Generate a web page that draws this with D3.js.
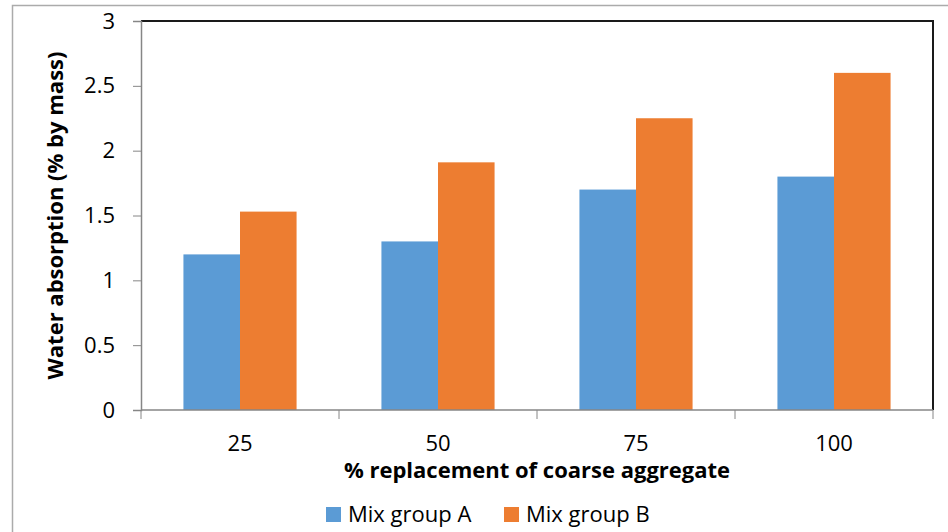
<!DOCTYPE html>
<html>
<head>
<meta charset="utf-8">
<script src="https://cdn.jsdelivr.net/npm/d3@7"></script>
<style>
  html, body { margin: 0; padding: 0; background: #fff; }
  svg { display: block; font-family: "Open Sans", "Noto Sans", sans-serif; }
</style>
</head>
<body>
<svg id="chart" width="948" height="532"></svg>
<script>
// Water absorption by percentage of coarse aggregate replaced
const categories = ["25", "50", "75", "100"];
const seriesNames = ["Mix group A", "Mix group B"];
const mixA = [1.2, 1.3, 1.7, 1.8];
const mixB = [1.53, 1.91, 2.25, 2.6];
const yTicks = [0, 0.5, 1, 1.5, 2, 2.5, 3];
const colors = ["#5B9BD5", "#ED7D31"];

const FONT = "'Open Sans', 'Noto Sans', sans-serif";
const FS = 22;

const svg = d3.select("#chart");
const plotLeft = 141, plotRight = 933, plotTop = 21, plotBottom = 410;

// outer chart frame
svg.append("rect")
  .attr("x", 12.5).attr("y", 5.5)
  .attr("width", 960).attr("height", 560)
  .attr("fill", "none").attr("stroke", "#ababab").attr("stroke-width", 1.5);

const x0 = d3.scaleBand().domain(categories).range([plotLeft, plotRight]).padding(0);
const bw = x0.bandwidth();
const x1 = d3.scaleBand().domain(seriesNames)
  .range([bw * 0.75 / 3.5, bw * 2.75 / 3.5]).padding(0);
const y = d3.scaleLinear().domain([0, 3]).range([plotBottom, plotTop]);

// plot area frame: top and right edges in black
svg.append("path")
  .attr("d", `M${plotLeft},${plotTop}H${plotRight}V${plotBottom}`)
  .attr("fill", "none").attr("stroke", "#1a1a1a").attr("stroke-width", 2);

// bars
const rows = categories.map((c, i) => ({ cat: c, vals: [mixA[i], mixB[i]] }));
const groups = svg.append("g").selectAll("g").data(rows).join("g")
  .attr("transform", d => `translate(${x0(d.cat)},0)`);
groups.selectAll("rect")
  .data(d => d.vals.map((v, j) => ({ name: seriesNames[j], v, j })))
  .join("rect")
  .attr("x", d => x1(d.name))
  .attr("y", d => y(d.v))
  .attr("width", x1.bandwidth())
  .attr("height", d => y(0) - y(d.v))
  .attr("fill", d => colors[d.j]);

// y axis
const yAxis = svg.append("g")
  .attr("transform", `translate(${plotLeft},0)`)
  .call(d3.axisLeft(y).tickValues(yTicks).tickSize(8).tickPadding(18)
    .tickFormat(d3.format("")));
yAxis.select(".domain").attr("stroke", "#868686").attr("stroke-width", 1.5);
yAxis.selectAll(".tick line").attr("stroke", "#868686");
yAxis.selectAll("text")
  .attr("font-size", FS).attr("fill", "#000")
  .attr("font-family", FONT);

// x axis: labels centred in each band, tick marks at band edges
const xAxis = svg.append("g")
  .attr("transform", `translate(0,${plotBottom})`)
  .call(d3.axisBottom(x0).tickSize(0).tickPadding(25));
xAxis.select(".domain").attr("stroke", "#868686").attr("stroke-width", 1.5)
  .attr("d", `M${plotLeft},0H${plotRight}`);
xAxis.selectAll("text")
  .attr("font-size", FS).attr("fill", "#000")
  .attr("font-family", FONT);
const edges = categories.map(c => x0(c)).concat([x0(categories[categories.length - 1]) + bw]);
xAxis.selectAll("line.edge").data(edges).join("line")
  .attr("class", "edge")
  .attr("x1", d => d).attr("x2", d => d)
  .attr("y1", 0).attr("y2", 9)
  .attr("stroke", "#868686").attr("stroke-width", 1);

// axis titles
svg.append("text")
  .attr("x", (plotLeft + plotRight) / 2).attr("y", 478)
  .attr("text-anchor", "middle")
  .attr("font-size", FS).attr("font-weight", "bold")
  .text("% replacement of coarse aggregate");

svg.append("text")
  .attr("transform", `translate(63,${(plotTop + plotBottom) / 2}) rotate(-90)`)
  .attr("text-anchor", "middle")
  .attr("font-size", FS).attr("font-weight", "bold")
  .text("Water absorption (% by mass)");

// legend
const legendX = [326, 504];
const legend = svg.append("g").selectAll("g").data(seriesNames).join("g")
  .attr("transform", (d, i) => `translate(${legendX[i]},507)`);
legend.append("rect")
  .attr("width", 15).attr("height", 15)
  .attr("fill", (d, i) => colors[i]);
legend.append("text")
  .attr("x", 22).attr("y", 15)
  .attr("font-size", FS)
  .text(d => d);
</script>
</body>
</html>
